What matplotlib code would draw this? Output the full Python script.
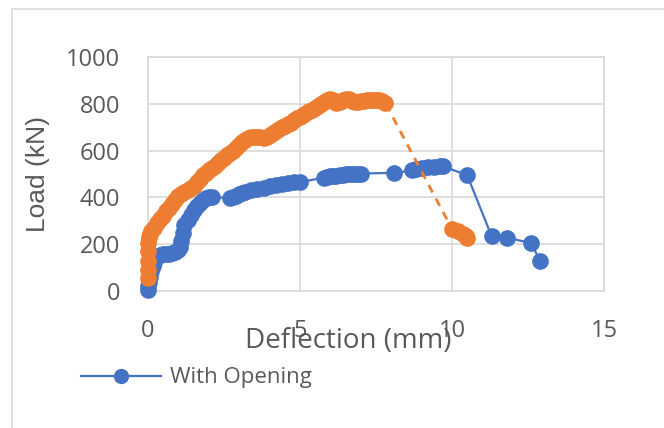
import matplotlib
matplotlib.use("Agg")
import matplotlib.pyplot as plt
from matplotlib.lines import Line2D
from matplotlib.patches import Rectangle

# ---- data ----
blue_x = [0, 0, 0.02, 0.05, 0.1, 0.15, 0.2, 0.3, 0.4, 0.5, 0.6, 0.7, 0.8, 0.9, 1.0,
          1.05, 1.1, 1.15, 1.2, 1.3, 1.4, 1.5, 1.6, 1.7, 1.8, 1.9, 2.0, 2.1,
          2.7, 2.8, 2.9, 3.0, 3.1, 3.2, 3.4, 3.6, 3.8, 4.0, 4.2, 4.4, 4.6, 4.8, 5.0,
          5.8, 5.9, 6.0, 6.1, 6.2, 6.3, 6.4, 6.5, 6.6, 6.7, 6.8, 6.9, 7.0,
          8.1, 8.7, 8.8, 9.0, 9.2, 9.4, 9.6, 9.7,
          10.5, 11.3, 11.8, 12.6, 12.9]
blue_y = [5, 20, 40, 60, 85, 105, 125, 145, 152, 156, 158, 160, 163, 167, 175,
          190, 215, 250, 280, 305, 325, 345, 362, 378, 388, 396, 402, 400,
          398, 402, 408, 415, 420, 425, 430, 435, 440, 447, 452, 457, 462, 465, 465,
          485, 487, 490, 492, 493, 495, 497, 498, 499, 500, 500, 500, 502,
          505, 515, 520, 525, 530, 532, 533, 533,
          495, 235, 228, 205, 128]

orange_x = [0, 0, 0, 0, 0, 0.02, 0.05, 0.1, 0.2, 0.3, 0.4, 0.5, 0.6, 0.7, 0.8, 0.9,
            1.0, 1.1, 1.2, 1.3, 1.4, 1.5, 1.6, 1.7, 1.8, 1.9, 2.0, 2.1, 2.2, 2.3,
            2.4, 2.5, 2.6, 2.7, 2.8, 2.9, 3.0, 3.1, 3.2, 3.3, 3.4, 3.5, 3.6, 3.7,
            3.8, 3.9, 4.0, 4.1, 4.2, 4.3, 4.4, 4.5, 4.6, 4.7, 4.8, 4.9, 5.0, 5.1,
            5.2, 5.3, 5.4, 5.5, 5.6, 5.7, 5.8, 5.9, 6.0, 6.1, 6.2, 6.3, 6.4, 6.5,
            6.6, 6.7, 6.8, 6.9, 7.0, 7.1, 7.2, 7.3, 7.4, 7.5, 7.6, 7.7, 7.8,
            10.0, 10.2, 10.35, 10.45, 10.5]
orange_y = [55, 90, 130, 170, 205, 230, 245, 255, 270, 290, 308, 322, 340, 355, 370, 388,
            405, 415, 425, 432, 440, 450, 465, 480, 495, 505, 515, 525, 535, 545,
            558, 570, 580, 590, 600, 612, 624, 635, 645, 655, 658, 660, 660, 658,
            655, 660, 665, 675, 685, 692, 700, 705, 712, 720, 730, 738, 745, 752,
            760, 768, 775, 782, 790, 800, 808, 815, 820, 815, 805, 808, 815, 822,
            820, 812, 808, 808, 810, 812, 815, 818, 818, 815, 815, 810, 805,
            265, 255, 245, 235, 228]

x_ticks = [0, 5, 10, 15]
y_ticks = [0, 200, 400, 600, 800, 1000]
legend_label = "With Opening"
x_title = "Deflection (mm)"
y_title = "Load (kN)"

BLUE = "#4472C4"
ORANGE = "#ED7D31"
GRID = "#D9D9D9"
TXT = "#595959"

W, H = 664, 428
fig = plt.figure(figsize=(W / 100, H / 100), dpi=100)
fig.patch.set_facecolor("white")

# outer chart border
fig.patches.append(Rectangle((12 / W, -0.1), 1.2, 1 - 9 / H + 0.1,
                             transform=fig.transFigure, fill=False,
                             edgecolor=GRID, linewidth=1.2))

ax = fig.add_axes([148 / W, 1 - 291 / H, (604 - 148) / W, (291 - 57) / H])
ax.set_xlim(0, 15)
ax.set_ylim(0, 1000)
ax.set_xticks(x_ticks)
ax.set_yticks(y_ticks)
ax.grid(True, color=GRID, linewidth=1.2)
ax.set_axisbelow(True)
for s in ax.spines.values():
    s.set_color(GRID)
    s.set_linewidth(1.2)
ax.tick_params(length=0, labelsize=17, colors=TXT)
ax.tick_params(axis="x", pad=20)
ax.tick_params(axis="y", pad=20)
for lab in ax.get_xticklabels() + ax.get_yticklabels():
    lab.set_fontfamily("Open Sans")

ax.plot(blue_x, blue_y, color=BLUE, linewidth=1.6, marker="o", markersize=12,
        markeredgewidth=0, clip_on=False, zorder=3)
ax.plot(orange_x, orange_y, color=ORANGE, linewidth=2.0, linestyle=(0, (3, 2.5)),
        marker="o", markersize=12, markeredgewidth=0, clip_on=False, zorder=4)

fig.text(348 / W, 1 - 348 / H, x_title, ha="center", va="baseline",
         fontsize=20, color=TXT, family="Open Sans")
fig.text(38 / W, 1 - 174 / H, y_title, ha="center", va="center", rotation=90,
         fontsize=19, color=TXT, family="Liberation Sans")

handle = Line2D([], [], color=BLUE, linewidth=1.6, marker="o", markersize=11,
                markeredgewidth=0)
leg = fig.legend([handle], [legend_label], loc="center left",
                 bbox_to_anchor=(81 / W, 1 - 378 / H), frameon=False,
                 borderpad=0, borderaxespad=0, handlelength=3.6,
                 handletextpad=0.4, prop={"family": "Open Sans", "size": 16})
for t in leg.get_texts():
    t.set_color(TXT)

fig.savefig("out.png", dpi=100, facecolor="white")
